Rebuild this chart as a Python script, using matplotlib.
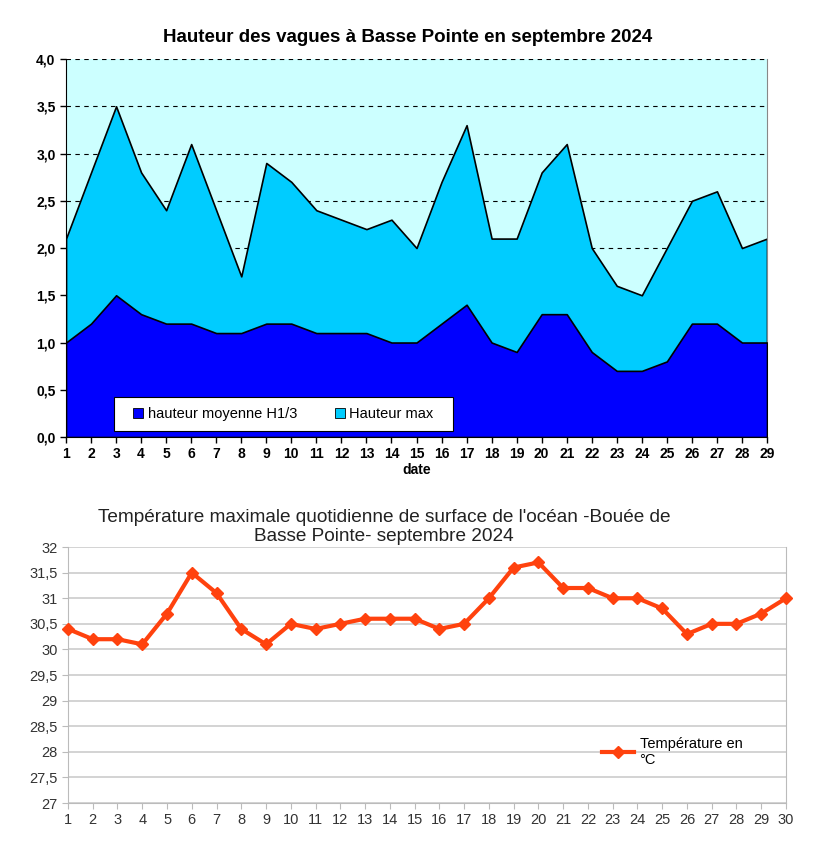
import matplotlib.pyplot as plt
from matplotlib.patches import Patch, Rectangle
from matplotlib.ticker import FuncFormatter

plt.rcParams['font.family'] = ['Liberation Sans', 'DejaVu Sans']

# données vagues (septembre 2024)
jours_vagues = list(range(1, 30))
hauteur_max = [2.1, 2.8, 3.5, 2.8, 2.4, 3.1, 2.4, 1.7, 2.9, 2.7, 2.4, 2.3, 2.2, 2.3, 2.0,
               2.7, 3.3, 2.1, 2.1, 2.8, 3.1, 2.0, 1.6, 1.5, 2.0, 2.5, 2.6, 2.0, 2.1]
hauteur_moy = [1.0, 1.2, 1.5, 1.3, 1.2, 1.2, 1.1, 1.1, 1.2, 1.2, 1.1, 1.1, 1.1, 1.0, 1.0,
               1.2, 1.4, 1.0, 0.9, 1.3, 1.3, 0.9, 0.7, 0.7, 0.8, 1.2, 1.2, 1.0, 1.0]

# données température
jours_temp = list(range(1, 31))
temperature = [30.4, 30.2, 30.2, 30.1, 30.7, 31.5, 31.1, 30.4, 30.1, 30.5,
               30.4, 30.5, 30.6, 30.6, 30.6, 30.4, 30.5, 31.0, 31.6, 31.7,
               31.2, 31.2, 31.0, 31.0, 30.8, 30.3, 30.5, 30.5, 30.7, 31.0]

fig = plt.figure(figsize=(8.22, 8.63), dpi=100, facecolor='white')


def virgule(v, pos):
    return ('%.1f' % v).replace('.', ',')


def virgule_court(v, pos):
    return ('%g' % v).replace('.', ',')


# ---- graphique du haut : hauteur des vagues ----
ax1 = fig.add_axes([0.0803, 0.4936, 0.8528, 0.438])
ax1.set_facecolor('#CCFFFF')
ax1.fill_between(jours_vagues, 0, hauteur_max, color='#00CCFF', edgecolor='black', linewidth=1.2, zorder=2)
ax1.fill_between(jours_vagues, 0, hauteur_moy, color='#0000FF', edgecolor='black', linewidth=1.2, zorder=3)
ax1.set_xlim(1, 29)
ax1.set_ylim(0, 4.0)
ax1.set_yticks([i * 0.5 for i in range(9)])
ax1.yaxis.set_major_formatter(FuncFormatter(virgule))
ax1.set_xticks(jours_vagues)
ax1.yaxis.grid(True, color='black', linestyle=(0, (4, 4)), linewidth=0.8, zorder=1)
ax1.set_axisbelow(True)
ax1.spines['top'].set_visible(False)
ax1.spines['right'].set_color('#888888')
ax1.tick_params(axis='both', labelsize=10, direction='out', length=4, width=1)
for lab in ax1.get_xticklabels() + ax1.get_yticklabels():
    lab.set_fontweight('bold')
ax1.set_xlabel('date', fontsize=10, fontweight='bold', labelpad=1)
fig.text(408 / 822, 1 - 37 / 863, 'Hauteur des vagues à Basse Pointe en septembre 2024',
         ha='center', va='center', fontsize=13.5, fontweight='bold')

# cadre blanc de la légende
ax1.add_patch(Rectangle((0.068, 0.016), 0.484, 0.09, transform=ax1.transAxes,
                        facecolor='white', edgecolor='black', linewidth=0.8, zorder=4))
handles = [Patch(facecolor='#0000FF', edgecolor='black', linewidth=0.6, label='hauteur moyenne H1/3'),
           Patch(facecolor='#00CCFF', edgecolor='black', linewidth=0.6, label='Hauteur max')]
leg = ax1.legend(handles=handles, loc='center', bbox_to_anchor=(0.31, 0.061),
                 ncol=2, fontsize=10.5, frameon=False, handlelength=0.7, handleheight=0.7,
                 handletextpad=0.3, columnspacing=2.6, borderaxespad=0)
leg.set_zorder(5)

# ---- graphique du bas : température ----
ax2 = fig.add_axes([0.0827, 0.0695, 0.8735, 0.2966])
ax2.plot(jours_temp, temperature, color='#FF420E', linewidth=3, marker='D', markersize=6,
         label='Température en\n°C', zorder=3, clip_on=False)
ax2.set_xlim(1, 30)
ax2.set_ylim(27, 32)
ax2.set_yticks([27 + i * 0.5 for i in range(11)])
ax2.yaxis.set_major_formatter(FuncFormatter(virgule_court))
ax2.set_xticks(jours_temp)
ax2.yaxis.grid(True, color='#CCCCCC', linewidth=1.2, zorder=1)
ax2.set_axisbelow(True)
ax2.spines['top'].set_visible(False)
for s in ['left', 'bottom', 'right']:
    ax2.spines[s].set_color('#BBBBBB')
ax2.tick_params(axis='both', labelsize=10.5, colors='#BBBBBB', labelcolor='#333333',
                direction='out', length=4)
ax2.legend(loc='center left', bbox_to_anchor=(0.725, 0.2), frameon=False, fontsize=10.5,
           handlelength=2.2, handletextpad=0.4)
fig.text(384 / 822, 1 - 527 / 863,
         "Température maximale quotidienne de surface de l'océan -Bouée de\nBasse Pointe- septembre 2024",
         ha='center', va='center', multialignment='center', fontsize=13.7, color='#222222',
         linespacing=1.2)

fig.savefig('out.png', dpi=100)
